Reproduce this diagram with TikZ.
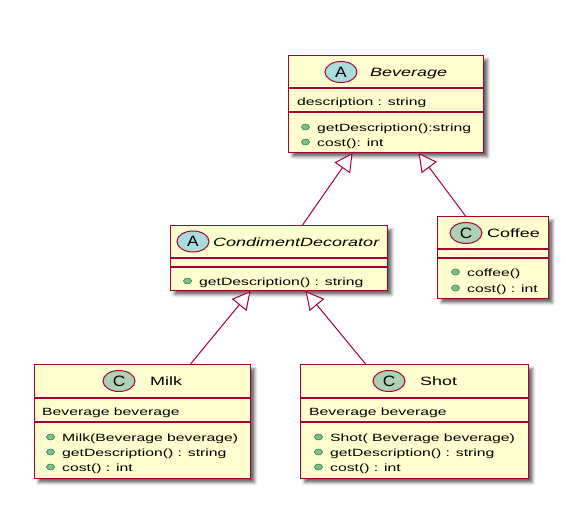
\documentclass[tikz,border=0pt]{standalone}
\usepackage{fontspec}
\newfontfamily\uml{Liberation Sans}[FakeStretch=1.5]
\newfontfamily\umlc{Liberation Sans}[FakeStretch=1.15]
\usetikzlibrary{arrows.meta,shapes.geometric,shadows.blur}
\definecolor{bord}{HTML}{A80036}
\definecolor{boxfill}{HTML}{FEFECE}
\definecolor{afill}{HTML}{A9DCDF}
\definecolor{cfill}{HTML}{ADD1B2}
\definecolor{dotfill}{HTML}{84BE84}
\definecolor{dotbord}{HTML}{038048}
\begin{document}
\begin{tikzpicture}[x=1pt,y=-1pt,
  box/.style={draw=bord, fill=boxfill, line width=1.1pt, inner sep=0pt, anchor=north west,
    blur shadow={shadow xshift=4pt, shadow yshift=-4pt, shadow blur radius=3pt, shadow opacity=60}},
  sep/.style={draw=bord, line width=1.1pt},
  hdr/.style={font=\uml\fontsize{12}{14}\selectfont, anchor=base west, inner sep=0pt},
  hdri/.style={font=\uml\itshape\fontsize{12}{14}\selectfont, anchor=base west, inner sep=0pt},
  mem/.style={font=\uml\fontsize{10.5}{13}\selectfont, anchor=base west, inner sep=0pt},
  circ/.style={ellipse, draw=bord, line width=1pt, minimum width=32pt, minimum height=21pt,
    inner sep=0pt, font=\umlc\fontsize{15}{15}\selectfont},
  pubdot/.style={ellipse, draw=dotbord, fill=dotfill, line width=0.5pt, minimum width=8pt,
    minimum height=6pt, inner sep=0pt},
  inh/.style={draw=bord, line width=1pt, -{Triangle[open, length=18pt, width=19pt, fill=white]}},
]
\useasboundingbox (0,0) rectangle (566,514);

% Beverage
\node[box, minimum width=195pt, minimum height=97pt] (bev) at (288,55) {};
\draw[sep] (288,88) -- (483,88);
\draw[sep] (288,112) -- (483,112);
\node[circ, fill=afill] (bevc) at (341,72) {A};
\node[hdri] (bevn) at (370,76) {Beverage};
\node[mem] (beva) at (297,105) {description : string};
\node[pubdot] (bevd1) at (305.5,127) {};
\node[mem] (bevm1) at (317,131) {getDescription():string};
\node[pubdot] (bevd2) at (305.5,142) {};
\node[mem] (bevm2) at (317,146) {cost(): int};

% CondimentDecorator
\node[box, minimum width=217pt, minimum height=65pt] (cd) at (170,225) {};
\draw[sep] (170,258) -- (387,258);
\draw[sep] (170,267) -- (387,267);
\node[circ, fill=afill] (cdc) at (193,241.5) {A};
\node[hdri] (cdn) at (213,246) {CondimentDecorator};
\node[pubdot] (cdd1) at (187.5,281) {};
\node[mem] (cdm1) at (199,285) {getDescription() : string};

% Coffee
\node[box, minimum width=111pt, minimum height=82pt] (cof) at (437,216) {};
\draw[sep] (437,249) -- (548,249);
\draw[sep] (437,258) -- (548,258);
\node[circ, fill=cfill] (cofc) at (466,233) {C};
\node[hdr] (cofn) at (487,237) {Coffee};
\node[pubdot] (cofd1) at (455.5,272) {};
\node[mem] (cofm1) at (467,276) {coffee()};
\node[pubdot] (cofd2) at (455.5,288) {};
\node[mem] (cofm2) at (467,292) {cost() : int};

% Milk
\node[box, minimum width=216pt, minimum height=114pt] (milk) at (34,364) {};
\draw[sep] (34,398) -- (250,398);
\draw[sep] (34,422) -- (250,422);
\node[circ, fill=cfill] (milkc) at (119,381) {C};
\node[hdr] (milkn) at (150,385.5) {Milk};
\node[mem] (milka) at (42,415) {Beverage beverage};
\node[pubdot] (milkd1) at (50.5,437) {};
\node[mem] (milkm1) at (62,441) {Milk(Beverage beverage)};
\node[pubdot] (milkd2) at (50.5,452) {};
\node[mem] (milkm2) at (62,456) {getDescription() : string};
\node[pubdot] (milkd3) at (50.5,467) {};
\node[mem] (milkm3) at (62,471) {cost() : int};

% Shot
\node[box, minimum width=228pt, minimum height=114pt] (shot) at (300,364) {};
\draw[sep] (300,398) -- (528,398);
\draw[sep] (300,422) -- (528,422);
\node[circ, fill=cfill] (shotc) at (389,381) {C};
\node[hdr] (shotn) at (420,385.5) {Shot};
\node[mem] (shota) at (309,415) {Beverage beverage};
\node[pubdot] (shotd1) at (318.5,437) {};
\node[mem] (shotm1) at (330,441) {Shot( Beverage beverage)};
\node[pubdot] (shotd2) at (318.5,452) {};
\node[mem] (shotm2) at (330,456) {getDescription() : string};
\node[pubdot] (shotd3) at (318.5,467) {};
\node[mem] (shotm3) at (330,471) {cost() : int};

% Inheritance connectors
\draw[inh] ([xshift=23.5pt]cd.north) -- ([xshift=-33.5pt]bev.south);
\draw[inh] ([xshift=-27.5pt]cof.north) -- ([xshift=32.5pt]bev.south);
\draw[inh] ([xshift=48pt]milk.north) -- ([xshift=-28.5pt]cd.south);
\draw[inh] ([xshift=-49pt]shot.north) -- ([xshift=26.5pt]cd.south);
\end{tikzpicture}
\end{document}
